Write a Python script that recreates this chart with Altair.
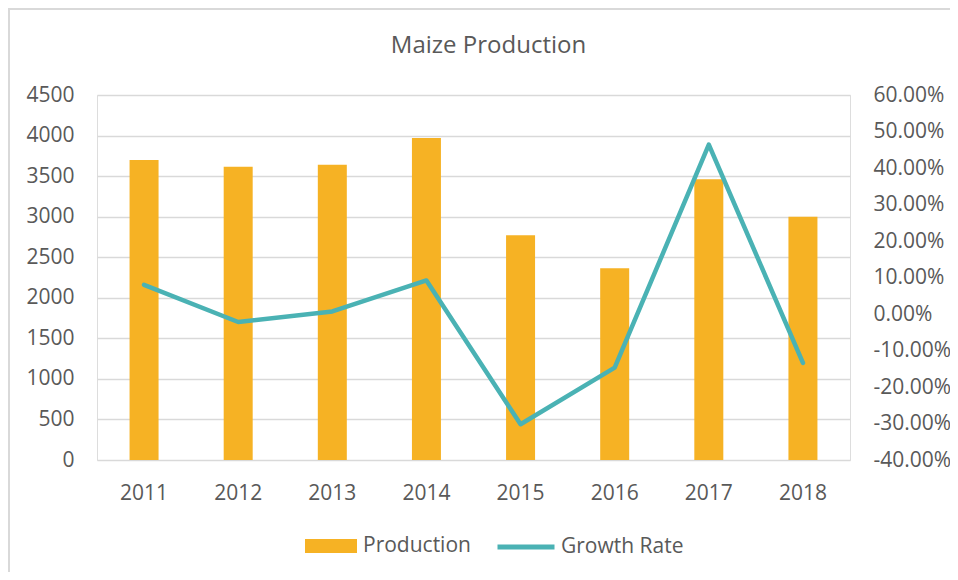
import altair as alt
import pandas as pd

years = ["2011", "2012", "2013", "2014", "2015", "2016", "2017", "2018"]
production = [3700, 3615, 3640, 3970, 2770, 2365, 3460, 3000]
growth = [0.080, -0.022, 0.007, 0.092, -0.302, -0.147, 0.464, -0.134]
left_ticks = [0, 500, 1000, 1500, 2000, 2500, 3000, 3500, 4000, 4500]
right_ticks = [-0.4, -0.3, -0.2, -0.1, 0.0, 0.1, 0.2, 0.3, 0.4, 0.5, 0.6]

BAR = "#F6B224"
LINE = "#4AB2B4"
TXT = "#595959"
GRID = "#D9D9D9"
FONT = "Open Sans"

df = pd.DataFrame({"year": years, "production": production, "growth": growth})

PW, PH = 753, 365

xenc = alt.X("year:O", title=None,
             scale=alt.Scale(paddingInner=0, paddingOuter=0),
             axis=alt.Axis(labelAngle=0, ticks=False, domain=False, labelPadding=22,
                           labelFontSize=21, labelColor=TXT, labelFont=FONT))

border = alt.Chart(pd.DataFrame({"k": [0]})).mark_rect(
    fill="transparent", stroke=GRID, strokeWidth=2
).encode(x=alt.value(-88), x2=alt.value(PW + 200), y=alt.value(-86), y2=alt.value(PH + 200))

base = alt.Chart(df).encode(x=xenc)

bars = base.mark_bar(size=29).transform_calculate(s="'Production'").encode(
    y=alt.Y("production:Q", title=None,
            scale=alt.Scale(domain=[0, 4500], nice=False),
            axis=alt.Axis(values=left_ticks, format="d", ticks=False, domain=False,
                          grid=True, gridColor=GRID, gridWidth=1.5, labelPadding=23,
                          labelFontSize=21, labelColor=TXT, labelFont=FONT)),
    fill=alt.Fill("s:N", scale=alt.Scale(domain=["Production"], range=[BAR]),
                  legend=alt.Legend(title=None, orient="none", legendX=208, legendY=425,
                                    symbolType="M-1,-0.27H1V0.27H-1Z", symbolSize=2704,
                                    symbolStrokeWidth=0, labelOffset=6, padding=0,
                                    labelFontSize=21, labelColor=TXT, labelFont=FONT)),
)

line = base.mark_line(strokeWidth=4.5, strokeCap="round", strokeJoin="round").transform_calculate(
    s="'Growth Rate'").encode(
    y=alt.Y("growth:Q", title=None,
            scale=alt.Scale(domain=[-0.4, 0.6], nice=False),
            axis=alt.Axis(orient="right", values=right_ticks, format=".2%", ticks=False,
                          labelExpr="replace(datum.label, '\u2212', '-')",
                          domain=False, grid=False, labelPadding=23,
                          labelFontSize=21, labelColor=TXT, labelFont=FONT)),
    stroke=alt.Stroke("s:N", scale=alt.Scale(domain=["Growth Rate"], range=[LINE]),
                      legend=alt.Legend(title=None, orient="none", legendX=398, legendY=421,
                                        symbolType="stroke", symbolSize=3249,
                                        symbolStrokeWidth=5, labelOffset=4, padding=0,
                                        labelFontSize=21, labelColor=TXT, labelFont=FONT)),
)

chart = alt.layer(border, bars, line).resolve_scale(
    y="independent", fill="independent", stroke="independent"
).properties(
    width=PW, height=PH,
    title=alt.Title("Maize Production", fontSize=24, font=FONT, color=TXT,
                    fontWeight="normal", anchor="middle", frame="group", dx=15, offset=-50),
    autosize=alt.AutoSizeParams(type="none"),
    padding={"left": 89, "top": 87, "right": 100, "bottom": 112},
).configure_view(stroke=None).configure(background="white")

chart.save("out.html", embed_options={"renderer": "svg", "actions": False})
